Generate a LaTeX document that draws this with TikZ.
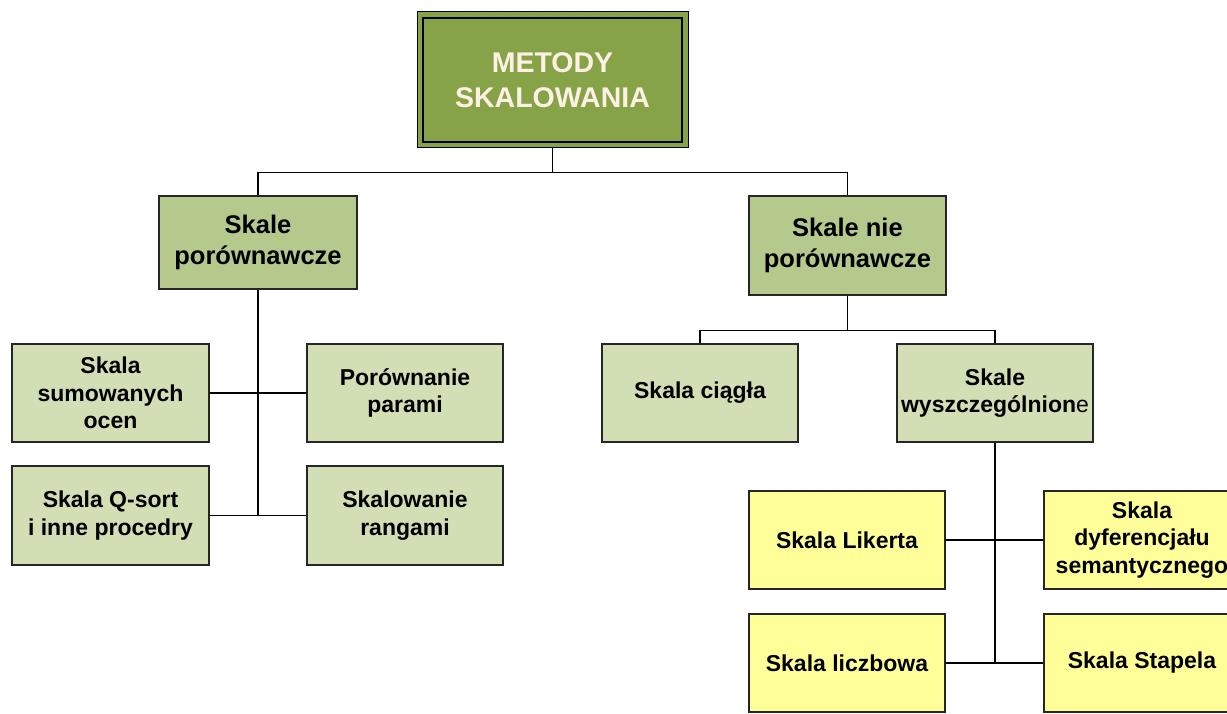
\documentclass[tikz,border=0pt]{standalone}
\usepackage{fontspec}
\setmainfont{Liberation Sans}
\usetikzlibrary{positioning}
\definecolor{topgreen}{HTML}{86A447}
\definecolor{midgreen}{HTML}{B5C98D}
\definecolor{lightgreen}{HTML}{D2DEB3}
\definecolor{lightyellow}{HTML}{FFFF99}
\definecolor{cream}{HTML}{FDF0E4}
\tikzset{
  box/.style={draw=black!85, line width=1.3pt, minimum width=197pt, minimum height=98pt, align=center, inner sep=0pt, text=black},
  midbox/.style={box, fill=midgreen, font=\bfseries\fontsize{25.5}{31}\selectfont},
  lowbox/.style={box, fill=lightgreen, font=\bfseries\fontsize{23}{27.5}\selectfont},
  yelbox/.style={box, fill=lightyellow, font=\bfseries\fontsize{23}{27.5}\selectfont},
  link/.style={draw=black, line width=1.3pt}
}
\begin{document}
\begin{tikzpicture}[x=1pt,y=-1pt]
\useasboundingbox (0,0) rectangle (1227,714);
\clip (0,0) rectangle (1227,714);
% top
\node[draw=black, line width=1pt, fill=topgreen, minimum width=271pt, minimum height=136pt, inner sep=0pt] (top) at (552.5,80) {};
\node[draw=black, line width=2.5pt, minimum width=259pt, minimum height=124pt, inner sep=0pt, align=center, text=cream, font=\bfseries\fontsize{28.5}{35}\selectfont] (topin) at (552.5,80) {METODY\\SKALOWANIA};
% level 2
\node[midbox, minimum width=198pt, minimum height=93pt] (comp) at (258,242.5) {Skale\\porównawcze};
\node[midbox, minimum height=99pt] (ncomp) at (847.5,245.5) {Skale nie\\porównawcze};
% level 3 left
\node[lowbox] (sum) at (110.5,393) {Skala\\sumowanych\\ocen};
\node[lowbox, minimum width=196pt] (par) at (405,393) {Porównanie\\parami};
\node[lowbox, minimum height=99pt] (qs) at (110.5,515.5) {Skala Q-sort\\i inne procedry};
\node[lowbox, minimum width=196pt, minimum height=99pt] (rang) at (405,515.5) {Skalowanie\\rangami};
% level 3 right
\node[lowbox, minimum width=196pt] (ciag) at (700,393) {Skala ciągła};
\node[lowbox, minimum width=196pt] (wysz) at (995,393) {Skale\\wyszczególnion\textmd{e}};
% level 4
\node[yelbox, minimum width=196pt] (lik) at (847,540) {Skala Likerta};
\node[yelbox, minimum width=196pt] (dyf) at (1142,540) {Skala\\dyferencjału\\semantycznego};
\node[yelbox, minimum width=196pt] (licz) at (847,663) {Skala liczbowa};
\node[yelbox, minimum width=196pt] (stap) at (1142,663) {Skala Stapela};
% connectors
\draw[link] (top.south) -- ++(0,24) coordinate (j1);
\draw[link] (j1) -| (comp.north);
\draw[link] (j1) -| (ncomp.north);
\draw[link] (comp.south) -- (comp.south |- qs.east);
\draw[link] (sum.east) -- (par.west);
\draw[link] (qs.east) -- (rang.west);
\draw[link] (ncomp.south) -- ++(0,35) coordinate (j2);
\draw[link] (j2) -| (ciag.north);
\draw[link] (j2) -| (wysz.north);
\draw[link] (wysz.south) -- (wysz.south |- licz.east);
\draw[link] (lik.east) -- (dyf.west);
\draw[link] (licz.east) -- (stap.west);
\end{tikzpicture}
\end{document}
